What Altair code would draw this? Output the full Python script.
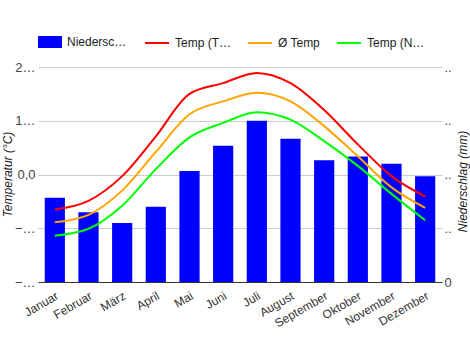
import altair as alt
import pandas as pd

months = ["Januar", "Februar", "März", "April", "Mai", "Juni", "Juli",
          "August", "September", "Oktober", "November", "Dezember"]
precip = [47, 39, 33, 42, 62, 76, 90, 80, 68, 70, 66, 59]
temp_max = [-6.5, -4.9, -0.3, 7.1, 15.0, 17.0, 18.9, 17.0, 12.0, 5.6, -0.3, -4.1]
temp_avg = [-8.9, -7.5, -3.0, 4.2, 11.2, 13.6, 15.2, 13.6, 9.0, 3.4, -2.4, -6.2]
temp_min = [-11.4, -10.1, -5.8, 1.0, 6.9, 9.6, 11.6, 10.2, 6.2, 1.6, -3.6, -8.5]

series_names = ["Temp (Tag)", "Ø Temp", "Temp (Nacht)"]
series_colors = ["#ff0000", "#ffa500", "#00ff00"]
bar_name = "Niederschlag (mm)"

bars_df = pd.DataFrame({"Monat": months, "Wert": precip, "Serie": bar_name})
lines_df = pd.DataFrame({
    "Monat": months * 3,
    "Temp": temp_max + temp_avg + temp_min,
    "Serie": [series_names[0]] * 12 + [series_names[1]] * 12 + [series_names[2]] * 12,
})

x_enc = alt.X("Monat:N", sort=months,
              scale=alt.Scale(paddingInner=0.4, paddingOuter=0.2),
              axis=alt.Axis(title=None, labelAngle=330, labelAlign="right",
                            labelBaseline="top", labelFontSize=12, labelColor="#333",
                            labelPadding=8, ticks=False, domainColor="#333",
                            grid=False))

bars = alt.Chart(bars_df).mark_bar(color="#0000ff").encode(
    x=x_enc,
    y=alt.Y("Wert:Q", scale=alt.Scale(domain=[0, 120]),
            axis=alt.Axis(orient="right", title="Niederschlag (mm)", values=[0, 30, 60, 90, 120],
                          grid=False, domain=False, ticks=False, labelPadding=2,
                          labelExpr="datum.value == 0 ? '0' : '..'",
                          labelFontSize=13, labelColor="#444",
                          titleAngle=270, titleX=20, titleY=114, titleAlign="center",
                          titleBaseline="middle", titleFontStyle="italic",
                          titleFontWeight="normal", titleFontSize=12, titleColor="#222")),
    fill=alt.Fill("Serie:N", scale=alt.Scale(domain=[bar_name], range=["#0000ff"]),
                  legend=alt.Legend(orient="none", legendX=0, legendY=-37, title=None,
                                    symbolType="M-1,-0.5H1V0.5H-1Z", symbolSize=576,
                                    symbolStrokeWidth=0, labelFontSize=12, labelColor="#222",
                                    labelOffset=5,
                                    labelExpr="slice(datum.label, 0, 8) + '…'")),
)

lines = alt.Chart(lines_df).mark_line(interpolate="monotone", strokeWidth=2).encode(
    x=x_enc,
    y=alt.Y("Temp:Q", scale=alt.Scale(domain=[-20, 20]),
            axis=alt.Axis(orient="left", title="Temperatur (°C)", values=[-20, -10, 0, 10, 20],
                          grid=True, gridColor="#cccccc", domain=False, ticks=False,
                          labelPadding=3, labelFontSize=13, labelColor="#444",
                          labelExpr="datum.value == 0 ? '0,0' : slice(datum.label, 0, 1) + '…'",
                          titleAngle=270, titleX=-31, titleY=107, titleAlign="center",
                          titleBaseline="middle", titleFontStyle="italic",
                          titleFontWeight="normal", titleFontSize=12, titleColor="#222")),
    stroke=alt.Stroke("Serie:N", sort=series_names,
                      scale=alt.Scale(domain=series_names, range=series_colors),
                      legend=alt.Legend(orient="none", legendX=106, legendY=-37, title=None,
                                        direction="horizontal", columns=3, columnPadding=12,
                                        symbolType="stroke", symbolSize=576, symbolStrokeWidth=2,
                                        labelFontSize=12, labelColor="#222", labelOffset=5,
                                        labelExpr="datum.label == 'Ø Temp' ? datum.label : slice(datum.label, 0, 7) + '…'")),
)

chart = alt.layer(bars, lines).resolve_scale(
    y="independent", fill="independent", stroke="independent"
).properties(
    width=404, height=215,
    autosize=alt.AutoSizeParams(type="none"),
    padding={"left": 38, "top": 67, "right": 28, "bottom": 68},
).configure(
    font="Liberation Sans",
).configure_view(stroke=None)

chart.save("out.html", embed_options={"renderer": "svg", "actions": False})
